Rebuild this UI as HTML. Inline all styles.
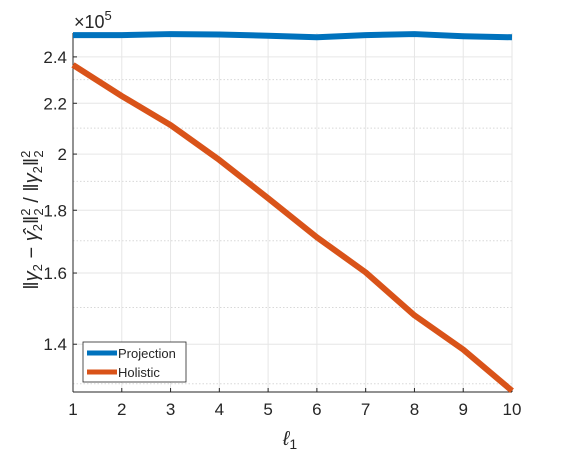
<!DOCTYPE html>
<html><head><meta charset="utf-8"><style>
body{margin:0;background:#fff}
svg text{font-family:"Liberation Sans",sans-serif;fill:#262626}
</style></head><body>
<svg width="565" height="452" xmlns="http://www.w3.org/2000/svg">
<g id="grid"></g>
<g id="axes"></g>
<g id="series"></g>
<text x="74" y="28" font-size="18">×10<tspan dy="-8" font-size="13">5</tspan></text>
<text x="290" y="445" font-size="20" text-anchor="middle" font-style="italic">ℓ<tspan font-size="14" dy="4" font-style="normal">1</tspan></text>
<text transform="translate(38,220) rotate(-90)" font-size="20" text-anchor="middle">‖<tspan font-style="italic">γ</tspan><tspan font-size="13" dy="4">2</tspan><tspan dy="-4"> − </tspan><tspan font-style="italic">γ̂</tspan><tspan font-size="13" dy="4">2</tspan><tspan dy="-4">‖</tspan><tspan font-size="13" dy="-8">2</tspan><tspan font-size="13" dx="-7" dy="13">2</tspan><tspan dy="-5"> / ‖</tspan><tspan font-style="italic">γ</tspan><tspan font-size="13" dy="4">2</tspan><tspan dy="-4">‖</tspan><tspan font-size="13" dy="-8">2</tspan><tspan font-size="13" dx="-7" dy="13">2</tspan></text>
<g>
<rect x="83" y="342" width="103" height="40" fill="#fff" stroke="#262626" stroke-width="0.8"/>
<line x1="87" y1="353" x2="117" y2="353" stroke="#0072BD" stroke-width="5"/>
<text x="118" y="358" font-size="13">Projection</text>
<line x1="87" y1="372" x2="117" y2="372" stroke="#D95319" stroke-width="5"/>
<text x="118" y="377" font-size="13">Holistic</text>
</g>
</svg>
<script>
const categories=[1,2,3,4,5,6,7,8,9,10];
const projection=[2.50,2.50,2.505,2.503,2.497,2.49,2.50,2.505,2.495,2.49];
const holistic=[2.364,2.23,2.112,1.978,1.841,1.711,1.602,1.478,1.386,1.283];
const yTicks=[1.4,1.6,1.8,2,2.2,2.4];
const yMinor=[1.3,1.5,1.7,1.9,2.1,2.3,2.5];
const L=73,R=512,T=33,B=392,yMin=1.28,yMax=2.51;
const xs=v=>L+(v-1)*(R-L)/9;
const ys=v=>B-(Math.log(v)-Math.log(yMin))/(Math.log(yMax)-Math.log(yMin))*(B-T);
const NS="http://www.w3.org/2000/svg";
function mk(p,t,a){const e=document.createElementNS(NS,t);for(const k in a)e.setAttribute(k,a[k]);document.getElementById(p).appendChild(e);return e;}
yMinor.forEach(v=>{const e=mk('grid','line',{x1:L,x2:R,y1:ys(v),y2:ys(v),stroke:'#d8d8d8','stroke-dasharray':'1.5,2'});

});
yTicks.forEach(v=>{const e=mk('grid','line',{x1:L,x2:R,y1:ys(v),y2:ys(v),stroke:'#e6e6e6'});


const t=mk('axes','text',{x:L-6,y:ys(v)+6,'font-size':17,'text-anchor':'end'});t.textContent=v;


mk('axes','line',{x1:L,x2:L+4,y1:ys(v),y2:ys(v),stroke:'#262626'});});
categories.forEach(c=>{const e=mk('grid','line',{x1:xs(c),x2:xs(c),y1:T,y2:B,stroke:'#e6e6e6'});


const t=mk('axes','text',{x:xs(c),y:B+23,'font-size':17,'text-anchor':'middle'});t.textContent=c;


mk('axes','line',{x1:xs(c),x2:xs(c),y1:B,y2:B-4,stroke:'#262626'});});
mk('axes','line',{x1:L,x2:L,y1:T,y2:B,stroke:'#262626'});
mk('axes','line',{x1:L,x2:R,y1:B,y2:B,stroke:'#262626'});
function series(d,col,name){const e=mk('series','polyline',{points:d.map((v,i)=>xs(categories[i])+','+ys(v)).join(' '),fill:'none',stroke:col,'stroke-width':6,'stroke-linejoin':'round'});

}
series(projection,'#0072BD','projection-line');
series(holistic,'#D95319','holistic-line');
</script>
</body></html>
